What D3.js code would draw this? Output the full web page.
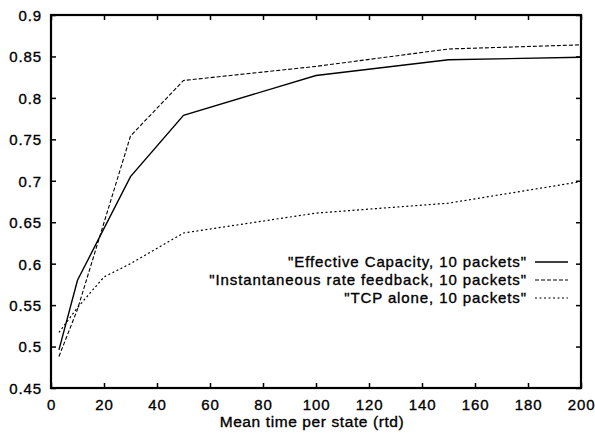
<!DOCTYPE html>
<html>
<head>
<meta charset="utf-8">
<script src="https://cdn.jsdelivr.net/npm/d3@7"></script>
<style>
  body { margin: 0; background: #fff; }
  svg text { font-family: "Liberation Sans", Arial, sans-serif; fill: #000;
             stroke: #000; stroke-width: 0.35px; letter-spacing: 0.9px; }
</style>
</head>
<body>
<div id="chart"></div>
<script>
// x = mean time per state (rtd)
var xVals = [3, 10, 20, 30, 50, 100, 150, 200];
// null where that run has no point
var effCap  = [0.496, 0.580, null, 0.705, 0.779, 0.827, 0.846, 0.849];
var instFb  = [0.488, 0.545, null, 0.754, 0.821, 0.838, 0.859, 0.864];
var tcpOnly = [0.517, 0.547, 0.584, 0.600, 0.637, 0.661, 0.673, 0.699];

var seriesNames = ['"Effective Capacity, 10 packets"',
                   '"Instantaneous rate feedback, 10 packets"',
                   '"TCP alone, 10 packets"'];
var xTicks = [0, 20, 40, 60, 80, 100, 120, 140, 160, 180, 200];
var yTicks = [0.45, 0.5, 0.55, 0.6, 0.65, 0.7, 0.75, 0.8, 0.85, 0.9];
var xTitle = "Mean time per state (rtd)";

var W = 595, H = 433;
var margin = {top: 15, right: 14, bottom: 45, left: 51};
var width = W - margin.left - margin.right;
var height = H - margin.top - margin.bottom;
var fs = 15;

var svg = d3.select("#chart").append("svg")
    .attr("width", W)
    .attr("height", H)
  .append("g")
    .attr("transform", "translate(" + margin.left + "," + margin.top + ")");

var x = d3.scaleLinear().domain([0, 200]).range([0, width]);
var y = d3.scaleLinear().domain([0.45, 0.9]).range([height, 0]);

var tickLen = 5;

// bottom axis with labels, inward ticks
var gx = svg.append("g")
    .attr("transform", "translate(0," + height + ")")
    .call(d3.axisBottom(x).tickValues(xTicks).tickSize(-tickLen).tickPadding(11).tickFormat(d3.format("d")));
// mirrored top ticks
var gxt = svg.append("g")
    .call(d3.axisTop(x).tickValues(xTicks).tickSize(-tickLen).tickFormat(""));
var gy = svg.append("g")
    .call(d3.axisLeft(y).tickValues(yTicks).tickSize(-tickLen).tickPadding(9)
      .tickFormat(function(d){ return d3.format("")(+d.toFixed(2)); }));
var gyr = svg.append("g")
    .attr("transform", "translate(" + width + ",0)")
    .call(d3.axisRight(y).tickValues(yTicks).tickSize(-tickLen).tickFormat(""));

[gx, gxt, gy, gyr].forEach(function(g){
  g.select(".domain").remove();
  g.selectAll(".tick line").attr("stroke", "#000").attr("stroke-width", 1.5);
  g.selectAll("text").attr("font-size", fs).attr("fill", "#000");
});
gy.selectAll("text").attr("dy", "0.36em");

// frame
svg.append("rect")
    .attr("width", width).attr("height", height)
    .attr("fill", "none").attr("stroke", "#000").attr("stroke-width", 2.2);

svg.append("text")
    .attr("x", width / 2 - 4)
    .attr("y", height + 39)
    .attr("text-anchor", "middle")
    .attr("font-size", 15.5)
    .style("letter-spacing", "0.6px")
    .text(xTitle);

var dashes = [null, "4,2", "2,2.5"];
var widths = [1.4, 1.1, 1.2];
var allSeries = [effCap, instFb, tcpOnly];

var line = d3.line()
    .defined(function(d){ return d[1] != null; })
    .x(function(d){ return x(d[0]); })
    .y(function(d){ return y(d[1]); });

allSeries.forEach(function(vals, i){
  var pts = xVals.map(function(xv, j){ return [xv, vals[j]]; })
    .filter(function(d){ return d[1] != null; });
  svg.append("path")
      .datum(pts)
      .attr("fill", "none")
      .attr("stroke", "#000")
      .attr("stroke-width", widths[i])
      .attr("stroke-dasharray", dashes[i])
      .attr("d", line);
});

// legend
var legend = svg.append("g")
    .attr("transform", "translate(" + (width - 54) + "," + (262 - margin.top) + ")");
seriesNames.forEach(function(name, i){
  var row = legend.append("g").attr("transform", "translate(0," + (i * 18) + ")");
  row.append("text")
      .attr("x", 0).attr("y", 0).attr("dy", "0.36em")
      .attr("text-anchor", "end")
      .attr("font-size", fs)
      .text(name);
  row.append("line")
      .attr("x1", 8).attr("x2", 41)
      .attr("stroke", "#000")
      .attr("stroke-width", widths[i])
      .attr("stroke-dasharray", dashes[i]);
});
</script>
</body>
</html>
